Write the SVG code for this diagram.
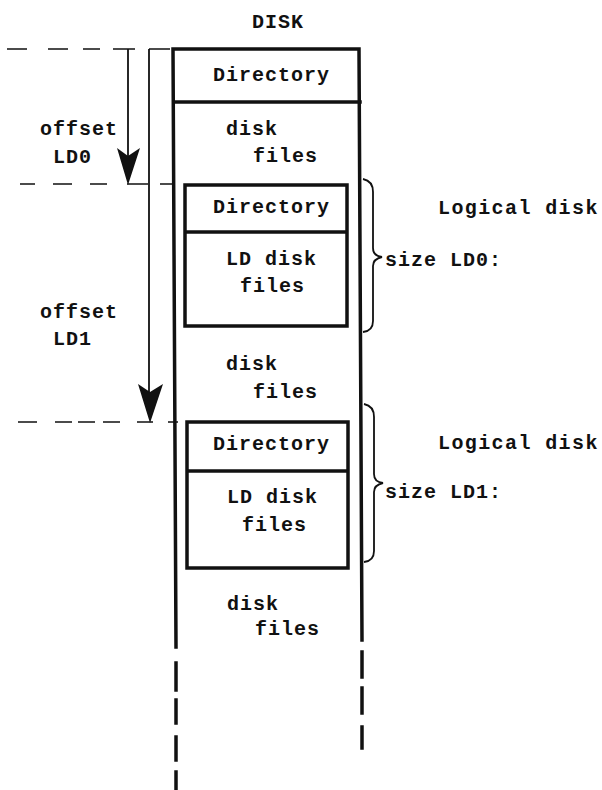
<svg xmlns="http://www.w3.org/2000/svg" width="602" height="790" viewBox="0 0 602 790">
<style>
text{font-family:"Liberation Mono","DejaVu Sans Mono",monospace;font-size:20px;font-weight:bold;letter-spacing:1px;fill:#111}
text.wide{letter-spacing:1.4px}
.thick{fill:none;stroke:#111;stroke-width:3.5;stroke-linecap:square}
.box{fill:none;stroke:#111;stroke-width:3.5}
.thin{fill:none;stroke:#111;stroke-width:1.8}
.dash{fill:none;stroke:#111;stroke-width:1.6}
.head{fill:#111;stroke:none}
.brace{fill:none;stroke:#111;stroke-width:1.8}
</style>
<rect width="602" height="790" fill="#fff"/>
<g id="disk">
<text x="252" y="28">DISK</text>
<path class="thick" d="M173,49 L359,49 M176,647 L173,49 M359,49 L362,640"/>
<path class="thick" d="M176,663 V690 M176,700 V723 M176,737 V760 M176,772 V790 M362,652 V677 M362,688 V713 M362,727 V748" stroke-linecap="butt"/>
</g>
<g id="directory-top">
<path class="thick" d="M174,102 H360"/>
<text x="213" y="81">Directory</text>
</g>
<g id="disk-files-1">
<text x="226" y="135">disk</text>
<text x="253" y="162">files</text>
</g>
<g id="logical-disk-0">
<rect class="box" x="185" y="185" width="162" height="141"/>
<path class="box" d="M185,232 H347"/>
<text x="213" y="213">Directory</text>
<text x="226" y="265">LD disk</text>
<text x="240" y="292">files</text>
</g>
<g id="disk-files-2">
<text x="226" y="370">disk</text>
<text x="253" y="398">files</text>
</g>
<g id="logical-disk-1">
<rect class="box" x="187" y="422" width="161" height="146"/>
<path class="box" d="M187,471 H348"/>
<text x="213" y="450">Directory</text>
<text x="227" y="503">LD disk</text>
<text x="242" y="531">files</text>
</g>
<g id="disk-files-3">
<text x="227" y="610">disk</text>
<text x="255" y="635">files</text>
</g>
<g id="labels">
<text x="40" y="135">offset</text>
<text x="53" y="163">LD0</text>
<text x="40" y="318">offset</text>
<text x="53" y="345">LD1</text>
<text class="wide" x="438" y="214">Logical disk</text>
<text x="385" y="266">size LD0:</text>
<text class="wide" x="438" y="449">Logical disk</text>
<text x="385" y="498">size LD1:</text>
</g>
<g id="connectors">
<path class="dash" d="M7,49 H27 M48,49 H68 M83,49 H100 M113,49 H135 M149,49 H170"/>
<path class="dash" d="M20,184 H35 M53,184 H72 M90,184 H107 M127,184 H148 M160,184 H172"/>
<path class="dash" d="M18,422 H37 M55,422 H72 M78,422 H95 M103,422 H120 M137,422 H153 M168,422 H178"/>
<path class="thin" d="M128,49 V156"/>
<polygon class="head" points="117,148 128,156 140,148 128,185"/>
<path class="thin" d="M149,49 V392"/>
<polygon class="head" points="138,384 150,392 163,384 150,423"/>
<path class="brace" d="M363,179 Q373,181 373,192 V248 Q373,256 382,257 Q373,259 373,266 V321 Q373,331 363,332"/>
<path class="brace" d="M364,404 Q374,406 374,417 V474 Q374,482 383,483 Q374,485 374,492 V551 Q374,561 364,562"/>
</g>
</svg>
